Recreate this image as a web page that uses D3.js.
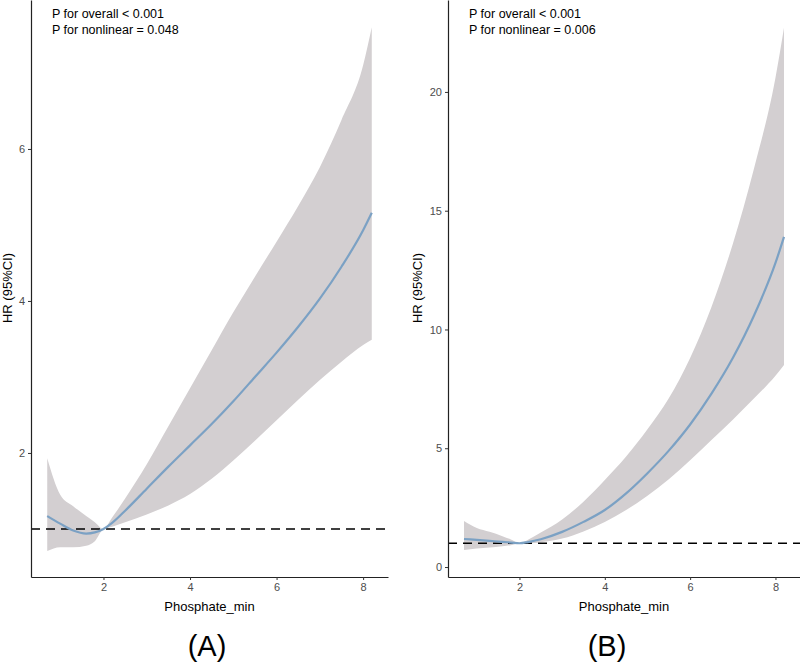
<!DOCTYPE html>
<html>
<head>
<meta charset="utf-8">
<script src="https://cdn.jsdelivr.net/npm/d3@7"></script>
<style>
  body { margin: 0; background: #fff; }
  text { font-family: "Liberation Sans", Arial, sans-serif; }
</style>
</head>
<body>
<svg class="chart"></svg>
<script>
let width = 800,
  height = 662;

// x values shared by both panels (Phosphate_min)
let phosphate = [0.7, 1.0, 1.3, 1.6, 1.8, 2.0, 2.2, 2.5, 3.0, 3.5, 4.0, 4.5, 5.0, 5.5, 6.0, 6.5, 7.0, 7.5, 8.0, 8.2];

// panel A
let hrA = [1.17, 1.07, 0.98, 0.94, 0.955, 1.0, 1.08, 1.24, 1.53, 1.82, 2.1, 2.38, 2.68, 3.0, 3.32, 3.66, 4.03, 4.45, 4.93, 5.16];
let upperA = [1.93, 1.45, 1.3, 1.17, 1.09, 1.0, 1.15, 1.4, 1.85, 2.35, 2.85, 3.35, 3.85, 4.32, 4.78, 5.25, 5.76, 6.38, 7.1, 7.6];
let lowerA = [0.71, 0.76, 0.76, 0.78, 0.84, 1.0, 1.03, 1.09, 1.19, 1.31, 1.46, 1.66, 1.9, 2.16, 2.43, 2.7, 2.96, 3.2, 3.42, 3.49];

// panel B
let hrB = [1.18, 1.14, 1.1, 1.06, 1.03, 1.0, 1.05, 1.17, 1.48, 1.9, 2.4, 3.1, 3.95, 4.9, 6.0, 7.3, 8.8, 10.6, 12.8, 13.9];
let upperB = [1.94, 1.64, 1.48, 1.3, 1.16, 1.0, 1.15, 1.45, 2.0, 2.75, 3.66, 4.65, 5.8, 7.1, 8.8, 10.95, 13.6, 16.8, 20.6, 22.7];
let lowerB = [0.72, 0.78, 0.82, 0.87, 0.92, 1.0, 0.99, 1.04, 1.2, 1.5, 1.9, 2.4, 3.0, 3.7, 4.5, 5.35, 6.2, 7.1, 8.05, 8.5];

let xTicks = [2, 4, 6, 8];
let yTicksA = [2, 4, 6];
let yTicksB = [0, 5, 10, 15, 20];

let svg = d3.select(".chart").attr("width", width).attr("height", height);

function drawPanel(opts) {
  let x = d3.scaleLinear().domain([0.325, 8.575]).range([opts.left, opts.right]);
  let y = d3.scaleLinear().domain(opts.yDomain).range([577, 0]);

  let rows = phosphate.map((p, i) => ({ p: p, hr: opts.hr[i], lo: opts.lower[i], hi: opts.upper[i] }));

  let g = svg.append("g");

  // confidence band
  g.append("path")
    .datum(rows)
    .attr("fill", "#d3cfd1")
    .attr("d", d3.area().curve(d3.curveMonotoneX)
      .x(d => x(d.p)).y0(d => y(d.lo)).y1(d => y(d.hi)));

  // reference line at HR = 1
  g.append("line")
    .attr("x1", opts.left).attr("x2", opts.right)
    .attr("y1", y(1)).attr("y2", y(1))
    .attr("stroke", "#000").attr("stroke-width", 1.6)
    .attr("stroke-dasharray", "9,6");

  // fitted curve
  g.append("path")
    .datum(rows)
    .attr("fill", "none")
    .attr("stroke", "#7ba1c4")
    .attr("stroke-width", 2.2)
    .attr("d", d3.line().curve(d3.curveMonotoneX).x(d => x(d.p)).y(d => y(d.hr)));

  // axes
  let xAxis = g.append("g")
    .attr("transform", "translate(0,577)")
    .call(d3.axisBottom(x).tickValues(xTicks).tickSize(3).tickPadding(3).tickSizeOuter(0));
  let yAxis = g.append("g")
    .attr("transform", "translate(" + opts.left + ",0)")
    .call(d3.axisLeft(y).tickValues(opts.yTicks).tickSize(3).tickPadding(3).tickSizeOuter(0));

  [xAxis, yAxis].forEach(a => {
    a.select(".domain").attr("stroke", "#222").attr("stroke-width", 1.2);
    a.selectAll(".tick line").attr("stroke", "#333");
    a.selectAll(".tick text").attr("fill", "#4d4d4d")
      .style("font-size", "11px").style("font-family", "Liberation Sans, Arial, sans-serif");
  });

  // axis titles
  g.append("text")
    .attr("x", (opts.left + opts.right) / 2).attr("y", 611)
    .attr("text-anchor", "middle").style("font-size", "13px")
    .text("Phosphate_min");
  g.append("text")
    .attr("transform", "translate(" + (opts.left - opts.labelGap) + ",288) rotate(-90)")
    .attr("text-anchor", "middle").style("font-size", "13px")
    .text("HR (95%CI)");

  // p values
  g.append("text").attr("x", opts.left + 21).attr("y", 18)
    .style("font-size", "12.5px").text("P for overall < 0.001");
  g.append("text").attr("x", opts.left + 21).attr("y", 34)
    .style("font-size", "12.5px").text("P for nonlinear = " + opts.pNonlinear);

  // panel label
  svg.append("text")
    .attr("x", opts.tag).attr("y", 656)
    .attr("text-anchor", "middle").style("font-size", "29px")
    .text(opts.name);
}

drawPanel({ left: 31, right: 388, yDomain: [0.368, 7.96], yTicks: yTicksA,
  hr: hrA, upper: upperA, lower: lowerA, pNonlinear: "0.048", name: "(A)", tag: 207, labelGap: 19 });
drawPanel({ left: 448, right: 800, yDomain: [-0.42, 23.87], yTicks: yTicksB,
  hr: hrB, upper: upperB, lower: lowerB, pNonlinear: "0.006", name: "(B)", tag: 607, labelGap: 26 });
</script>
</body>
</html>
